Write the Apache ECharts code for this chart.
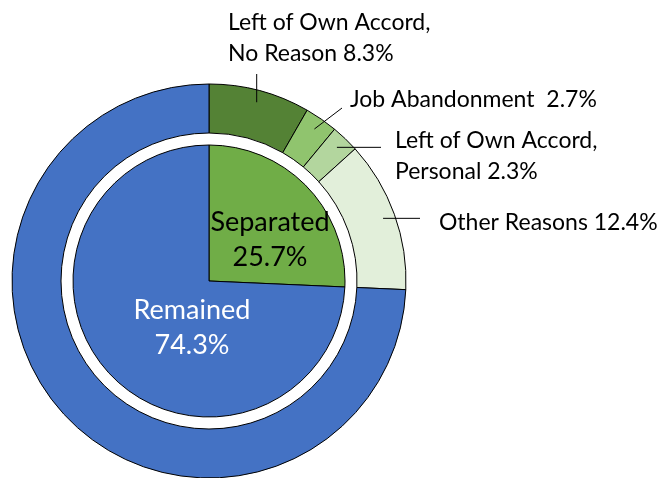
<!DOCTYPE html>
<html>
<head>
<meta charset="utf-8">
<script src="https://cdn.jsdelivr.net/npm/echarts@6/dist/echarts.min.js"></script>
<style>
  html, body { margin: 0; padding: 0; background: #fff; }
  #main { width: 672px; height: 478px; }
</style>
</head>
<body>
<div id="main"></div>
<script type="text/javascript">
// inner pie
var innerNames = ['Separated', 'Remained'];
var innerValues = [25.7, 74.3];

// outer ring (separated broken down by reason, then remained)
var outerNames = ['Left of Own Accord,\nNo Reason', 'Job Abandonment ', 'Left of Own Accord,\nPersonal', 'Other Reasons', 'Remained'];
var outerValues = [8.3, 2.7, 2.3, 12.4, 74.3];

var myChart = echarts.init(document.getElementById('main'));

var cx = 209, cy = 281;
var font = 'Lato, "Open Sans", sans-serif';

// where each outer label sits, and where its leader line ends
var outerLabelPos = [
    {x: 228, y: 38, end: 'up', endY: 74},
    {x: 350, y: 100, end: 'pt', endX: 342, endY: 108},
    {x: 395, y: 156, end: 'h', endX: 381},
    {x: 439, y: 223, end: 'h', endX: 420}
];
var innerLabelPos = [
    {x: 270, y: 240, color: '#000'},
    {x: 192, y: 328, color: '#fff'}
];

function midAngle(values, i) {
    var total = 0, before = 0;
    for (var k = 0; k < values.length; k++) {
        total += values[k];
        if (k < i) before += values[k];
    }
    return (before + values[i] / 2) / total * Math.PI * 2;
}

var outerColors = ['#548235', '#90C46E', '#B3D69E', '#E2EFDA', '#4472C4'];
var innerColors = ['#70AD47', '#4472C4'];

var option = {
    animation: false,
    series: [
        {
            type: 'pie',
            center: [cx, cy],
            radius: [0, 136],
            startAngle: 90,
            clockwise: true,
            avoidLabelOverlap: false,
            itemStyle: {borderColor: '#000', borderWidth: 1},
            label: {
                show: true,
                position: 'inside',
                fontFamily: font,
                fontSize: 27,
                lineHeight: 35,
                formatter: function (p) { return p.name + '\n' + p.value.toFixed(1) + '%'; }
            },
            labelLayout: function (p) {
                var pos = innerLabelPos[p.dataIndex];
                return {x: pos.x, y: pos.y, align: 'center', verticalAlign: 'middle'};
            },
            data: innerNames.map(function (n, i) {
                return {name: n, value: innerValues[i],
                    itemStyle: {color: innerColors[i]},
                    label: {color: innerLabelPos[i].color}};
            })
        },
        {
            type: 'pie',
            center: [cx, cy],
            radius: [148, 197],
            startAngle: 90,
            clockwise: true,
            avoidLabelOverlap: false,
            itemStyle: {borderColor: '#000', borderWidth: 1},
            label: {show: false},
            labelLine: {show: false},
            data: outerNames.map(function (n, i) {
                return {name: n, value: outerValues[i], itemStyle: {color: outerColors[i]}};
            })
        },
        {
            // same ring again, transparent, only to carry labels and leader lines on top
            type: 'pie',
            z: 5,
            silent: true,
            center: [cx, cy],
            radius: [148, 197],
            startAngle: 90,
            clockwise: true,
            avoidLabelOverlap: false,
            itemStyle: {color: 'rgba(0,0,0,0)', borderWidth: 0},
            label: {
                show: true,
                position: 'outside',
                color: '#000',
                fontFamily: font,
                fontSize: 23,
                lineHeight: 31,
                align: 'left',
                formatter: function (p) { return p.name + ' ' + p.value.toFixed(1) + '%'; }
            },
            labelLine: {show: true, lineStyle: {color: '#000', width: 1}},
            labelLayout: function (p) {
                var pos = outerLabelPos[p.dataIndex];
                if (!pos) return {};
                var a = midAngle(outerValues, p.dataIndex);
                var sx = cx + 185 * Math.sin(a), sy = cy - 185 * Math.cos(a);
                var ex, ey;
                if (pos.end === 'up') { ex = sx; ey = pos.endY; }
                else if (pos.end === 'h') { ex = pos.endX; ey = sy; }
                else { ex = pos.endX; ey = pos.endY; }
                return {
                    x: pos.x, y: pos.y, align: 'left', verticalAlign: 'middle',
                    labelLinePoints: [[sx, sy], [ex, ey], [ex, ey]]
                };
            },
            data: outerNames.map(function (n, i) {
                var d = {name: n, value: outerValues[i]};
                if (n === 'Remained') {
                    d.label = {show: false};
                    d.labelLine = {show: false};
                }
                return d;
            })
        }
    ]
};

myChart.setOption(option);
</script>
</body>
</html>
